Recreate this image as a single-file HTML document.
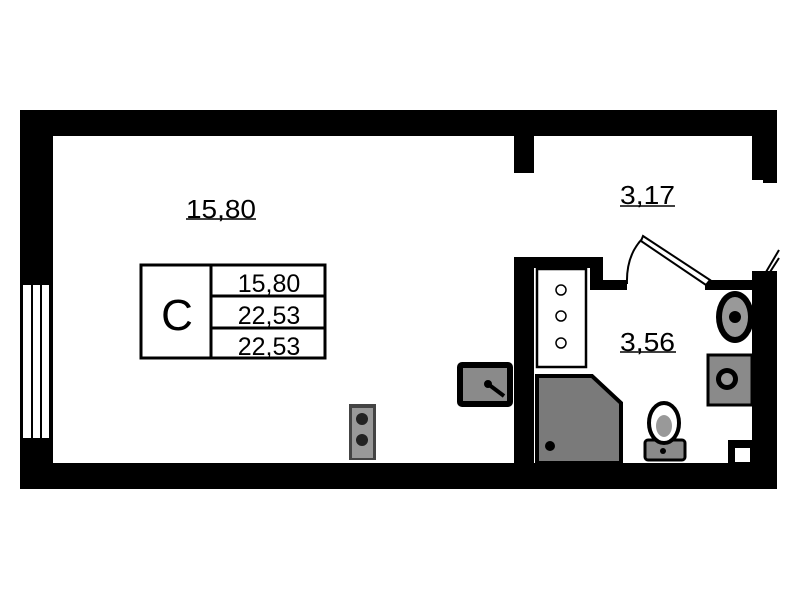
<!DOCTYPE html>
<html><head><style>
html,body{margin:0;padding:0;background:#fff;}
svg{display:block}
text{font-family:"Liberation Sans",sans-serif;fill:#000}
</style></head><body>
<svg width="799" height="600" viewBox="0 0 799 600" xmlns="http://www.w3.org/2000/svg">
<rect width="799" height="600" fill="#fff"/>
<rect x="20" y="110" width="757" height="26" fill="#000"/>
<rect x="20" y="110" width="33" height="379" fill="#000"/>
<rect x="20" y="463" width="757" height="26" fill="#000"/>
<rect x="23" y="285" width="28" height="153" fill="#fff"/>
<rect x="31" y="285" width="2" height="153" fill="#000"/>
<rect x="40" y="285" width="2" height="153" fill="#000"/>
<rect x="49" y="285" width="3" height="153" fill="#000"/>
<rect x="752" y="110" width="25" height="70" fill="#000"/>
<rect x="763" y="178" width="14" height="5" fill="#000"/>
<rect x="752" y="271" width="25" height="192" fill="#000"/>
<line x1="779" y1="250" x2="766" y2="272" stroke="#000" stroke-width="2"/>
<line x1="779" y1="258" x2="770" y2="272" stroke="#000" stroke-width="2"/>
<rect x="514" y="136" width="20" height="37" fill="#000"/>
<rect x="514" y="257" width="20" height="206" fill="#000"/>
<rect x="514" y="257" width="89" height="11" fill="#000"/>
<rect x="590" y="257" width="13" height="33" fill="#000"/>
<rect x="590" y="280" width="37" height="10" fill="#000"/>
<rect x="705" y="280" width="47" height="10" fill="#000"/>
<path d="M627,284 Q626,255 643,238" fill="none" stroke="#000" stroke-width="2"/>
<polygon points="643,236 710,280 706,285 641,241" fill="#fff" stroke="#000" stroke-width="2"/>
<rect x="728" y="440" width="24" height="23" fill="#000"/>
<rect x="735" y="448" width="15" height="14" fill="#fff"/>
<rect x="537" y="269" width="49" height="98" fill="#fff" stroke="#000" stroke-width="2.5"/>
<circle cx="561" cy="290" r="5" fill="none" stroke="#000" stroke-width="1.5"/>
<circle cx="561" cy="316" r="5" fill="none" stroke="#000" stroke-width="1.5"/>
<circle cx="561" cy="343" r="5" fill="none" stroke="#000" stroke-width="1.5"/>
<polygon points="537,376 592,376 621,403 621,463 537,463" fill="#7a7a7a" stroke="#000" stroke-width="4"/>
<circle cx="550" cy="446" r="5" fill="#000"/>
<rect x="645" y="440" width="40" height="20" rx="3" fill="#8a8a8a" stroke="#000" stroke-width="3"/>
<ellipse cx="664" cy="423" rx="15" ry="20" fill="#fff" stroke="#000" stroke-width="4"/>
<ellipse cx="664" cy="426" rx="8" ry="11" fill="#999"/>
<circle cx="663" cy="451" r="3" fill="#000"/>
<ellipse cx="735" cy="317" rx="19" ry="26" fill="#000"/>
<ellipse cx="735" cy="317" rx="13" ry="20" fill="#999"/>
<circle cx="735" cy="317" r="6" fill="#000"/>
<rect x="708" y="355" width="44" height="50" fill="#8a8a8a" stroke="#000" stroke-width="3"/>
<circle cx="727" cy="379" r="11" fill="#000"/>
<circle cx="727" cy="379" r="6" fill="#999"/>
<rect x="457" y="362" width="56" height="45" rx="5" fill="#000"/>
<rect x="463" y="368" width="44" height="33" fill="#8a8a8a"/>
<circle cx="488" cy="384" r="4" fill="#000"/>
<line x1="488" y1="384" x2="504" y2="396" stroke="#000" stroke-width="4"/>
<rect x="349" y="404" width="27" height="56" fill="#444"/>
<rect x="352" y="408" width="21" height="50" fill="#999"/>
<circle cx="362" cy="419" r="6" fill="#222"/>
<circle cx="362" cy="440" r="6" fill="#222"/>
<text x="186" y="218" font-size="26" textLength="70" lengthAdjust="spacingAndGlyphs">15,80</text>
<line x1="186" y1="219" x2="256" y2="219" stroke="#000" stroke-width="1.5"/>
<text x="620" y="204" font-size="26" textLength="55" lengthAdjust="spacingAndGlyphs">3,17</text>
<line x1="620" y1="206" x2="675" y2="206" stroke="#000" stroke-width="1.5"/>
<text x="620" y="351" font-size="26" textLength="55" lengthAdjust="spacingAndGlyphs">3,56</text>
<line x1="620" y1="352" x2="676" y2="352" stroke="#000" stroke-width="1.5"/>
<rect x="141" y="265" width="184" height="93" fill="#fff" stroke="#000" stroke-width="3"/>
<line x1="211" y1="265" x2="211" y2="358" stroke="#000" stroke-width="3"/>
<line x1="211" y1="296" x2="325" y2="296" stroke="#000" stroke-width="3"/>
<line x1="211" y1="328" x2="325" y2="328" stroke="#000" stroke-width="3"/>
<text x="177" y="330" font-size="44" text-anchor="middle">С</text>
<text x="269" y="292" font-size="25" text-anchor="middle">15,80</text>
<text x="269" y="324" font-size="25" text-anchor="middle">22,53</text>
<text x="269" y="355" font-size="25" text-anchor="middle">22,53</text>
</svg>
</body></html>
